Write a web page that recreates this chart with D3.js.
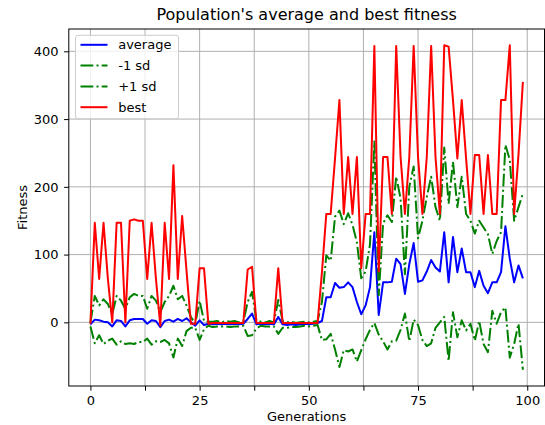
<!DOCTYPE html>
<html>
<head>
<meta charset="utf-8">
<script src="https://cdn.jsdelivr.net/npm/d3@7"></script>
<style>
	body { margin: 0; background: #fff; }
	text { font-family: "DejaVu Sans", sans-serif; fill: #000; }
</style>
</head>
<body>
<div id="my_dataviz"></div>
<script>
// values, one per generation (0..99)
const average = [
	-3, 4, 3, 1, 0, -6, 3, 2, -6, 3,
	5, 5, 5, -2, 3, 2, -7, 2, 4, 1,
	5, 2, 6, 0, -5, 3, -4, -2, -3, -2,
	-3, -2, -3, -2, -3, -2, 5, 13, -3, -2,
	-3, -2, -3, 8, -3, -4, -3, -4, -3, -2,
	-3, -2, -1, 2, 37, 37, 58, 51, 52, 59,
	52, 30, 12, 25, 52, 133, 11, 59, 59, 60,
	94, 86, 42, 86, 117, 60, 62, 75, 92, 81,
	75, 133, 59, 126, 74, 109, 74, 74, 52, 76,
	54, 43, 59, 59, 74, 142, 94, 59, 84, 65
];
const minusSd = [
	-6, -31, -19, -32, -27, -24, -33, -28, -32, -31,
	-32, -29, -29, -24, -33, -28, -29, -26, -31, -52,
	-24, -35, -13, -8, -8, -26, -10, -5, -7, -6,
	-6, -6, -7, -6, -6, -5, -20, -19, -9, -5,
	-6, -6, -6, -17, -8, -8, -7, -7, -6, -5,
	-6, -5, -4, -26, -25, -17, -40, -66, -41, -43,
	-40, -58, -41, -25, -11, -1, -18, -28, -40, -28,
	-27, -11, 13, -28, 4, -4, -26, -35, -31, -8,
	0, 8, -57, 15, -22, 3, -12, -2, -27, 2,
	-32, -44, 17, -2, 15, 22, -52, -32, -2, -70
];
const plusSd = [
	0, 39, 25, 34, 27, 12, 39, 32, 20, 37,
	42, 39, 39, 20, 39, 32, 15, 30, 39, 54,
	34, 39, 25, 8, -2, 32, 2, 1, 1, 2,
	0, 2, 1, 2, 0, 1, 30, 45, 3, 1,
	0, 2, 0, 33, 2, 0, 1, -1, 0, 1,
	0, 1, 2, 30, 99, 91, 156, 165, 145, 161,
	144, 118, 65, 75, 115, 267, 40, 146, 158, 148,
	215, 183, 71, 200, 230, 124, 150, 185, 215, 170,
	150, 258, 175, 237, 170, 215, 160, 150, 131, 150,
	140, 130, 101, 120, 133, 262, 240, 150, 170, 190
];
const best = [
	-2, 147, 64, 147, 64, 0, 147, 147, 0, 150,
	152, 150, 150, 64, 147, 64, -5, 147, 64, 232,
	64, 157, 76, -2, -2, 80, 80, -2, -1, -1,
	-1, -1, -1, -1, -1, -1, 78, 82, -1, -1,
	-1, -1, -1, 80, -1, -1, -1, -1, -1, -1,
	-1, -1, -1, 74, 160, 160, 242, 328, 160, 244,
	160, 244, 80, 160, 160, 408, 75, 244, 244, 160,
	408, 244, 160, 244, 408, 244, 160, 244, 408, 244,
	160, 409, 407, 328, 242, 328, 242, 160, 247, 247,
	160, 247, 160, 160, 328, 328, 409, 160, 248, 355
];
const seriesNames = ["average", "-1 sd", "+1 sd", "best"];
const xTicks = [0, 12.5, 25, 37.5, 50, 62.5, 75, 87.5, 100];
const yTicks = [0, 100, 200, 300, 400];

// set the dimensions and margins of the graph
const margin = { top: 29, right: 0.5, bottom: 39, left: 68.8 },
	width = 545 - margin.left - margin.right,
	height = 425 - margin.top - margin.bottom;

const svg = d3.select("#my_dataviz")
	.append("svg")
	.attr("width", 545)
	.attr("height", 425);

const g = svg.append("g")
	.attr("transform", `translate(${margin.left},${margin.top})`);

// scales, padded by 5% like matplotlib does
const n = average.length;
const x = d3.scaleLinear()
	.domain([-0.05 * (n - 1), 1.05 * (n - 1)])
	.range([0, width]);

const ext = d3.extent(average.concat(minusSd, plusSd, best));
const pad = (ext[1] - ext[0]) * 0.05;
const y = d3.scaleLinear()
	.domain([ext[0] - pad, ext[1] + pad])
	.range([height, 0]);

// grid
g.append("g").selectAll("line").data(xTicks).join("line")
	.attr("x1", d => x(d)).attr("x2", d => x(d))
	.attr("y1", 0).attr("y2", height)
	.attr("stroke", "#b0b0b0").attr("stroke-width", 1);
g.append("g").selectAll("line").data(yTicks).join("line")
	.attr("x1", 0).attr("x2", width)
	.attr("y1", d => y(d)).attr("y2", d => y(d))
	.attr("stroke", "#b0b0b0").attr("stroke-width", 1);

// the four series
const series = [
	{ name: seriesNames[0], values: average, color: "#0000ff", dash: null },
	{ name: seriesNames[1], values: minusSd, color: "#008000", dash: "12.8,3.2,2,3.2" },
	{ name: seriesNames[2], values: plusSd, color: "#008000", dash: "12.8,3.2,2,3.2" },
	{ name: seriesNames[3], values: best, color: "#ff0000", dash: null }
];

const line = d3.line()
	.x((d, i) => x(i))
	.y(d => y(d));

series.forEach(s => {
	g.append("path")
		.datum(s.values)
		.attr("fill", "none")
		.attr("stroke", s.color)
		.attr("stroke-width", 2)
		.attr("stroke-linejoin", "round")
		.attr("stroke-dasharray", s.dash)
		.attr("d", line);
});

// frame
g.append("rect")
	.attr("x", 0).attr("y", 0)
	.attr("width", width).attr("height", height)
	.attr("fill", "none").attr("stroke", "#000").attr("stroke-width", 1);

// axes
const xAxis = g.append("g")
	.attr("transform", `translate(0,${height})`)
	.call(d3.axisBottom(x).tickValues(xTicks).tickSize(4.7).tickPadding(5)
		.tickFormat(d => d % 25 === 0 ? d : ""));
const yAxis = g.append("g")
	.call(d3.axisLeft(y).tickValues(yTicks).tickSize(4.7).tickPadding(5.5));

[xAxis, yAxis].forEach(a => {
	a.select(".domain").remove();
	a.selectAll("line").attr("stroke", "#000");
	a.selectAll("text").style("font-size", "13px").attr("font-family", "DejaVu Sans");
});

// title and axis labels
svg.append("text")
	.attr("x", margin.left + width / 2)
	.attr("y", 20)
	.attr("text-anchor", "middle")
	.style("font-size", "16px")
	.text("Population's average and best fitness");

svg.append("text")
	.attr("x", margin.left + width / 2)
	.attr("y", 421)
	.attr("text-anchor", "middle")
	.style("font-size", "13px")
	.text("Generations");

svg.append("text")
	.attr("transform", `translate(27,${margin.top + height / 2}) rotate(-90)`)
	.attr("text-anchor", "middle")
	.style("font-size", "13px")
	.text("Fitness");

// legend
const legend = svg.append("g")
	.attr("transform", "translate(75.5,35.3)");

legend.append("rect")
	.attr("width", 103)
	.attr("height", 83.4)
	.attr("rx", 2.5)
	.attr("fill", "#fff")
	.attr("fill-opacity", 0.8)
	.attr("stroke", "#cccccc")
	.attr("stroke-width", 1);

series.forEach((s, i) => {
	const row = 9.5 + i * 20.8;
	legend.append("line")
		.attr("x1", 5).attr("x2", 32)
		.attr("y1", row).attr("y2", row)
		.attr("stroke", s.color)
		.attr("stroke-width", 2)
		.attr("stroke-dasharray", s.dash);
	legend.append("text")
		.attr("x", 42.7)
		.attr("y", row)
		.attr("dy", "0.35em")
		.style("font-size", "13px")
		.text(s.name);
});
</script>
</body>
</html>
